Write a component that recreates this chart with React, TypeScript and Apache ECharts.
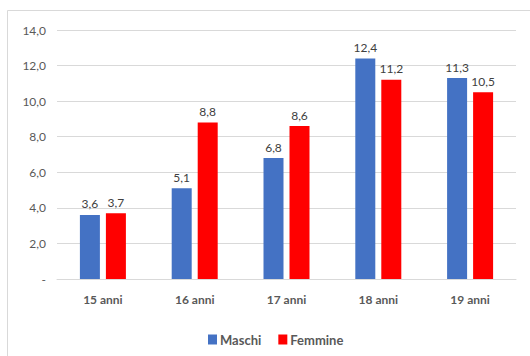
import React, { useEffect, useRef } from "react";
import * as echarts from "echarts";

const categories = ["15 anni", "16 anni", "17 anni", "18 anni", "19 anni"];
const maschi = [3.6, 5.1, 6.8, 12.4, 11.3];
const femmine = [3.7, 8.8, 8.6, 11.2, 10.5];

const FONT = "Lato, 'Open Sans', sans-serif";

export default function App() {
  const ref = useRef<HTMLDivElement>(null);
  useEffect(() => {
    if (!ref.current) return;
    const chart = echarts.init(ref.current, null, { renderer: "svg" });
    const fmt = (v: number) => v.toFixed(1).replace(".", ",");
    chart.setOption({
      animation: false,
      backgroundColor: "#ffffff",
      graphic: [
        {
          type: "rect",
          shape: { x: 7.5, y: 10.5, width: 540, height: 360 },
          style: { fill: "none", stroke: "#d9d9d9", lineWidth: 1 },
          silent: true,
        },
      ],
      grid: { left: 57, right: 14, top: 30, bottom: 77 },
      xAxis: {
        type: "category",
        data: categories,
        axisLine: { lineStyle: { color: "#d9d9d9" } },
        axisTick: { show: false },
        axisLabel: {
          color: "#595959",
          fontFamily: FONT,
          fontSize: 12,
          fontWeight: "bold",
          margin: 14,
        },
      },
      yAxis: {
        type: "value",
        min: 0,
        max: 14,
        interval: 2,
        axisLine: { show: false },
        axisTick: { show: false },
        splitLine: { lineStyle: { color: "#d9d9d9" } },
        axisLabel: {
          color: "#595959",
          fontFamily: FONT,
          fontSize: 12,
          margin: 11,
          formatter: (v: number) => (v === 0 ? "-" : fmt(v)),
        },
      },
      legend: {
        left: 203,
        top: 328,
        itemWidth: 9,
        itemHeight: 10,
        itemGap: 17,
        icon: "rect",
        textStyle: {
          color: "#595959",
          fontFamily: FONT,
          fontSize: 13,
          fontWeight: "bold",
          padding: [0, 0, 0, -2],
        },
        data: ["Maschi", "Femmine"],
      },
      series: [
        {
          name: "Maschi",
          type: "bar",
          data: maschi,
          barWidth: 20,
          barGap: "30%",
          itemStyle: { color: "#4472c4" },
          label: {
            show: true,
            position: "top",
            distance: 5,
            color: "#404040",
            fontFamily: FONT,
            fontSize: 12,
            formatter: (p: any) => fmt(p.value),
          },
        },
        {
          name: "Femmine",
          type: "bar",
          data: femmine,
          barWidth: 20,
          itemStyle: { color: "#ff0000" },
          label: {
            show: true,
            position: "top",
            distance: 5,
            color: "#404040",
            fontFamily: FONT,
            fontSize: 12,
            formatter: (p: any) => fmt(p.value),
          },
        },
      ],
    });
    return () => chart.dispose();
  }, []);
  return (
    <div
      ref={ref}
      style={{ position: "fixed", left: 0, top: 0, width: 530, height: 356 }}
    />
  );
}
